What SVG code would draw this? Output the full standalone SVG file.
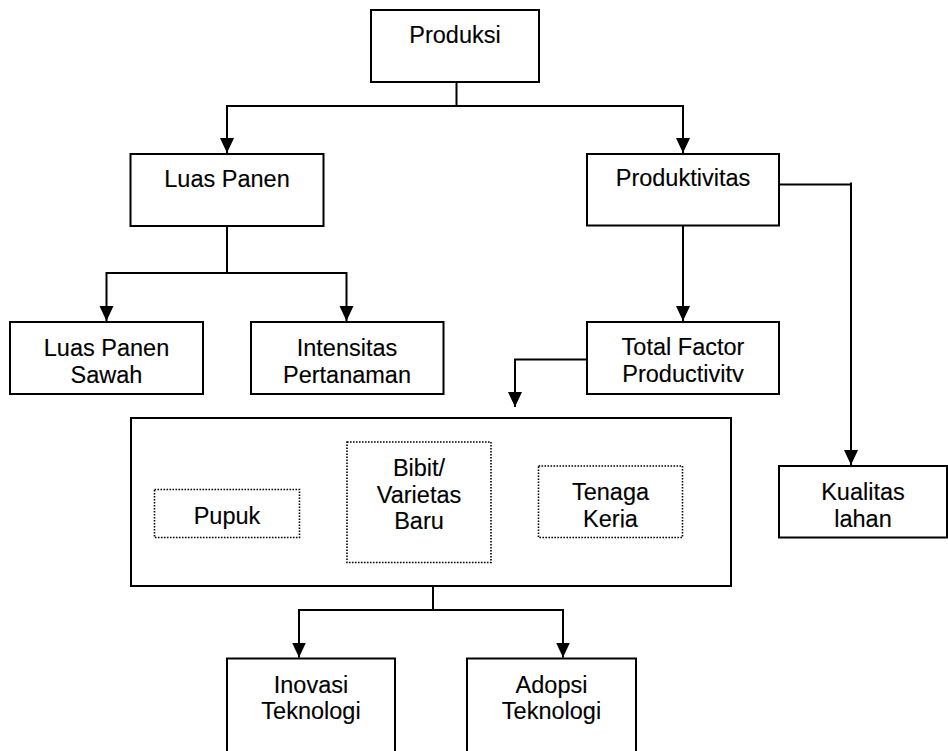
<svg xmlns="http://www.w3.org/2000/svg" width="948" height="751" viewBox="0 0 948 751">
<style>
.box{fill:#fff;stroke:#000;stroke-width:2}
.dot{fill:none;stroke:#000;stroke-width:1.6;stroke-dasharray:1.6 1.4}
.ln{fill:none;stroke:#000;stroke-width:2}
text{font-family:"Liberation Sans",Arial,sans-serif;font-size:23.5px;fill:#000;stroke:#000;stroke-width:0.12;text-anchor:middle}
</style>
<defs>
<marker id="ah" markerUnits="userSpaceOnUse" markerWidth="15" markerHeight="15" refX="15" refY="7.5" orient="auto" viewBox="0 0 15 15">
<path d="M0,0.5 L15,7.5 L0,14.5 z" fill="#000"/>
</marker>
<clipPath id="clipTFP"><rect x="587" y="322" width="192" height="60"/></clipPath>
<clipPath id="clipTK"><rect x="538" y="466" width="145" height="61.5"/></clipPath>
</defs>
<g id="connectors">
<path class="ln" d="M456.5,82 V106 M227,106 H683.5"/>
<path class="ln" d="M227,105 V153" marker-end="url(#ah)"/>
<path class="ln" d="M683,105 V153" marker-end="url(#ah)"/>
<path class="ln" d="M227,226 V273 M106.5,273 H346.5"/>
<path class="ln" d="M106.5,272 V321" marker-end="url(#ah)"/>
<path class="ln" d="M346.5,272 V321" marker-end="url(#ah)"/>
<path class="ln" d="M683,225 V321" marker-end="url(#ah)"/>
<path class="ln" d="M779,184.5 H852"/>
<path class="ln" d="M851,182.5 V465" marker-end="url(#ah)"/>
<path class="ln" d="M587,359.5 H515 V407" marker-end="url(#ah)"/>
<path class="ln" d="M433,586 V610 M299,610 H563.5"/>
<path class="ln" d="M299,609 V657.5" marker-end="url(#ah)"/>
<path class="ln" d="M563,609 V657.5" marker-end="url(#ah)"/>
</g>
<g id="produksi">
<rect class="box" x="371" y="10" width="168" height="72"/>
<text x="455" y="42.5">Produksi</text>
</g>
<g id="luas-panen">
<rect class="box" x="130.5" y="154" width="193" height="72"/>
<text x="227" y="186.5">Luas Panen</text>
</g>
<g id="produktivitas">
<rect class="box" x="587" y="154" width="192" height="71.5"/>
<text x="683" y="186">Produktivitas</text>
</g>
<g id="luas-panen-sawah">
<rect class="box" x="10" y="322" width="193" height="72"/>
<text x="106.5" y="356">Luas Panen</text>
<text x="106.5" y="382.5">Sawah</text>
</g>
<g id="intensitas-pertanaman">
<rect class="box" x="251" y="322" width="192.5" height="72"/>
<text x="347" y="356">Intensitas</text>
<text x="347" y="382.5">Pertanaman</text>
</g>
<g id="total-factor-productivity">
<rect class="box" x="587" y="322" width="192" height="72"/>
<g clip-path="url(#clipTFP)">
<text x="683" y="355">Total Factor</text>
<text x="683" y="381.5">Productivity</text>
</g>
</g>
<g id="faktor-input">
<rect class="box" x="131" y="418" width="600" height="168"/>
</g>
<g id="pupuk">
<rect class="dot" x="154.5" y="489.5" width="145" height="48"/>
<text x="227" y="523.5">Pupuk</text>
</g>
<g id="bibit-varietas-baru">
<rect class="dot" x="347" y="442" width="144" height="120.5"/>
<text x="419" y="476">Bibit/</text>
<text x="419" y="502.5">Varietas</text>
<text x="419" y="529">Baru</text>
</g>
<g id="tenaga-kerja">
<rect class="dot" x="538.5" y="466" width="144" height="71.5"/>
<g clip-path="url(#clipTK)">
<text x="610.5" y="500">Tenaga</text>
<text x="610.5" y="526.5">Kerja</text>
</g>
</g>
<g id="kualitas-lahan">
<rect class="box" x="779" y="466" width="168" height="71.5"/>
<text x="863" y="500">Kualitas</text>
<text x="863" y="526.5">lahan</text>
</g>
<g id="inovasi-teknologi">
<rect class="box" x="227" y="658.5" width="168" height="120"/>
<text x="311" y="692.5">Inovasi</text>
<text x="311" y="719">Teknologi</text>
</g>
<g id="adopsi-teknologi">
<rect class="box" x="467" y="658.5" width="169" height="120"/>
<text x="551.5" y="692.5">Adopsi</text>
<text x="551.5" y="719">Teknologi</text>
</g>
</svg>
